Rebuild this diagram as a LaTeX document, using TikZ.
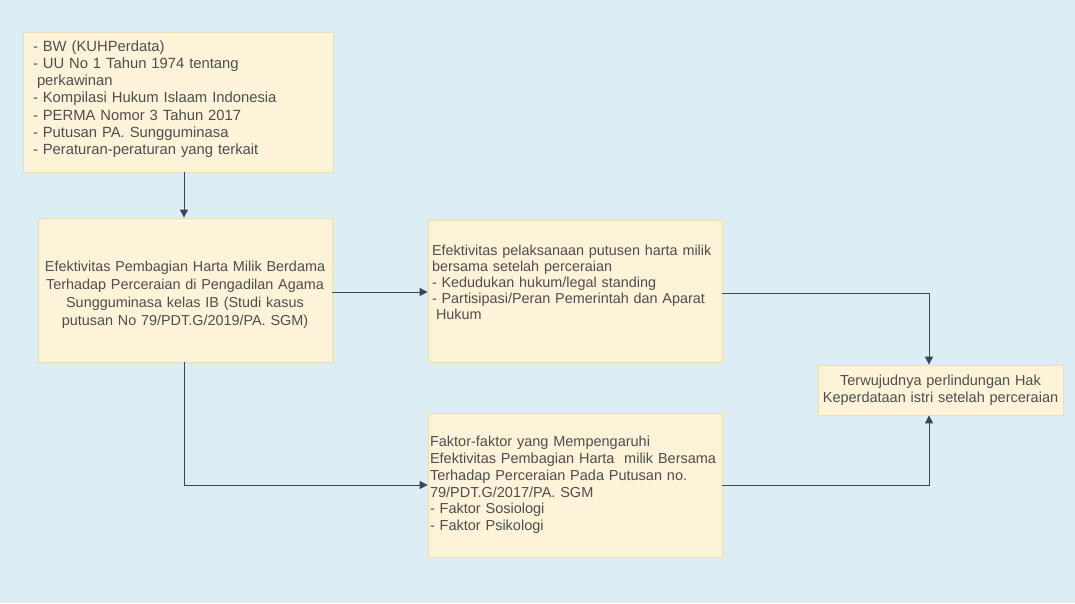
\documentclass[tikz,border=0pt]{standalone}
\usepackage{fontspec}
\setmainfont{Liberation Sans}
\usetikzlibrary{arrows.meta}
\definecolor{bgc}{HTML}{DCEDF3}
\definecolor{boxfill}{HTML}{FCF3D8}
\definecolor{boxline}{HTML}{EDDDB0}
\definecolor{txt}{HTML}{4E4E4E}
\definecolor{arrc}{HTML}{3D4455}
\tikzset{
  box/.style={draw=boxline, fill=boxfill, line width=0.8pt, rectangle, inner ysep=2pt, text=txt},
  arr/.style={draw=arrc, line width=1pt, -{Triangle[length=8pt,width=8pt]}}
}
\begin{document}
\begin{tikzpicture}[x=1pt,y=-1pt]
\fill[bgc] (0,0) rectangle (1075,603);
\useasboundingbox (0,0) rectangle (1075,603);

\node[box, minimum width=310pt, minimum height=140pt, inner xsep=10pt, text width=290pt, align=left,
  font=\fontsize{14.8}{17.2}\selectfont] (b1) at (178,102)
  {- BW (KUHPerdata)\\
   - UU No 1 Tahun 1974 tentang\\
   \hspace*{4pt}perkawinan\\
   - Kompilasi Hukum Islaam Indonesia\\
   - PERMA Nomor 3 Tahun 2017\\
   - Putusan PA. Sungguminasa\\
   - Peraturan-peraturan yang terkait\rule[-9pt]{0pt}{1pt}};

\node[box, minimum width=294pt, minimum height=144pt, inner xsep=3pt, text width=288pt, align=center,
  font=\fontsize{14.4}{18}\selectfont] (b2) at (185,290)
  {\rule{0pt}{19pt}Efektivitas Pembagian Harta Milik Berdama\\
   Terhadap Perceraian di Pengadilan Agama\\
   Sungguminasa kelas IB (Studi kasus\\
   putusan No 79/PDT.G/2019/PA. SGM)};

\node[box, minimum width=294pt, minimum height=142pt, inner xsep=4pt, text width=286pt, align=left,
  font=\fontsize{14.4}{16}\selectfont] (b3) at (575,291)
  {Efektivitas pelaksanaan putusen harta milik\\
   bersama setelah perceraian\\
   - Kedudukan hukum/legal standing\\
   - Partisipasi/Peran Pemerintah dan Aparat\\
   \hspace*{4pt}Hukum\rule[-17pt]{0pt}{1pt}};

\node[box, minimum width=294pt, minimum height=144pt, inner xsep=2pt, text width=290pt, align=left,
  font=\fontsize{14.5}{16.8}\selectfont] (b4) at (575,485)
  {Faktor-faktor yang Mempengaruhi\\
   Efektivitas Pembagian Harta\ \ milik Bersama\\
   Terhadap Perceraian Pada Putusan no.\\
   79/PDT.G/2017/PA. SGM\\
   - Faktor Sosiologi\\
   - Faktor Psikologi};

\node[box, minimum width=245pt, minimum height=50pt, inner xsep=2pt, text width=241pt, align=center,
  font=\fontsize{14.5}{17}\selectfont] (b5) at (940.5,390)
  {Terwujudnya perlindungan Hak\\
   Keperdataan istri setelah perceraian};

\coordinate (xa) at (184,0);
\coordinate (xb) at (929,0);
\draw[arr] (b1.south -| xa) -- (b2.north -| xa);
\draw[arr] (b2.east |- 0,292) -- (b3.west |- 0,292);
\draw[arr] (b2.south -| xa) |- (b4.west);
\draw[arr] (b3.east |- 0,293) -| (b5.north -| xb);
\draw[arr] (b4.east) -| (b5.south -| xb);
\end{tikzpicture}
\end{document}
